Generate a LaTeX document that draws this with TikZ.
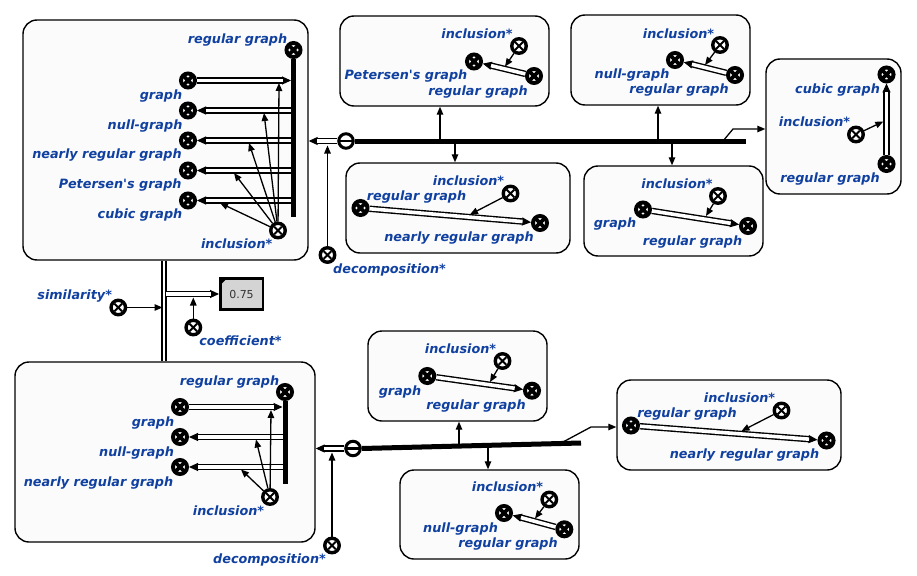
\documentclass[tikz,border=0pt]{standalone}
\usepackage{fontspec}
\setmainfont{DejaVu Sans}
\usetikzlibrary{arrows.meta}
\definecolor{termblue}{RGB}{16,64,160}
\definecolor{framefill}{RGB}{251,251,251}
\definecolor{valuefill}{RGB}{212,212,212}
\definecolor{valuetext}{RGB}{51,51,51}
\tikzset{
  frame/.style={draw=black, line width=1.4pt, fill=framefill, rounded corners=14pt, inner sep=0pt},
  concept/.style={circle, draw=black, fill=white, line width=4pt, minimum size=14pt, inner sep=0pt,
    path picture={\draw[line width=3.8pt, shift={(path picture bounding box.center)}] (-6,-6) -- (6,6) (-6,6) -- (6,-6);}},
  relation/.style={circle, draw=black, fill=white, line width=3.4pt, minimum size=14.5pt, inner sep=0pt,
    path picture={\draw[line width=1.9pt, shift={(path picture bounding box.center)}] (-3.8,-3.8) -- (3.8,3.8) (-3.8,3.8) -- (3.8,-3.8);}},
  hub/.style={circle, draw=black, fill=white, line width=3pt, minimum size=14.5pt, inner sep=0pt,
    path picture={\draw[line width=2.6pt, shift={(path picture bounding box.center)}] (-8,0) -- (8,0);}},
  term/.style={text=termblue, font=\fontsize{12.8}{14}\selectfont\bfseries\itshape, inner sep=0pt,
    text height=9.5pt, text depth=3pt, yshift=-1.8pt},
  arr/.style={draw=black, line width=1.3pt, -{Triangle[length=8pt,width=6.5pt]}},
  hollow/.style={draw=black, double=white, double distance=3.6pt, line width=1.4pt},
  hollowtip/.style={draw=black, line width=1pt, -{Triangle[length=9pt,width=8pt]}},
  thickbar/.style={draw=black, line width=5pt},
}
% white double line ending in a solid tip
\newcommand\hollowarrow[2]{%
  \draw[hollowtip] (#1) -- (#2);
  \draw[hollow, shorten >=8.5pt] (#1) -- (#2);}

\begin{document}
\begin{tikzpicture}[x=1pt,y=-1pt]
\useasboundingbox (0,0) rectangle (917,575);

% frames
\node[frame, minimum width=285pt, minimum height=240pt] (tlbox) at (165.5,140) {};
\node[frame, minimum width=209pt, minimum height=90pt] (petbox) at (444.5,61) {};
\node[frame, minimum width=179pt, minimum height=90pt] (nullbox) at (660.5,60) {};
\node[frame, minimum width=135pt, minimum height=135pt] (cubicbox) at (833.5,126.5) {};
\node[frame, minimum width=224pt, minimum height=90pt] (nearbox) at (458,208) {};
\node[frame, minimum width=179pt, minimum height=90pt] (grbox) at (673.5,211) {};
\node[frame, minimum width=300pt, minimum height=180pt] (blbox) at (165,452) {};
\node[frame, minimum width=179pt, minimum height=90pt] (grboxb) at (457.5,376) {};
\node[frame, minimum width=179pt, minimum height=89pt] (nullboxb) at (489.5,514.5) {};
\node[frame, minimum width=224pt, minimum height=90pt] (nearboxb) at (729,425) {};

% ---- upper left frame ----
\node[concept] (tlreg) at (293.5,50) {};
\node[concept] (tlgraph) at (188,80.5) {};
\node[concept] (tlnull) at (188,110.5) {};
\node[concept] (tlnear) at (188,140.5) {};
\node[concept] (tlpet) at (188,170.5) {};
\node[concept] (tlcubic) at (188,200.5) {};
\node[relation] (tlinc) at (278,230.5) {};
\node[term] (tlregl) at (237.5,38) {regular graph};
\node[term] (tlgraphl) at (161,94) {graph};
\node[term] (tlnulll) at (145,124) {null-graph};
\node[term] (tlnearl) at (107,153.5) {nearly regular graph};
\node[term] (tlpetl) at (120.3,183.5) {Petersen\textquotesingle s graph};
\node[term] (tlcubicl) at (140,213.5) {cubic graph};
\node[term] (tlincl) at (236.7,243.5) {inclusion*};
\coordinate (tlbarend) at (293.5,217);
\coordinate (tlb1) at (291,80.5);
\coordinate (tlb2) at (293.5,110.5);
\coordinate (tlb3) at (293.5,140.5);
\coordinate (tlb4) at (293.5,170.5);
\coordinate (tlb5) at (293.5,200.5);
\hollowarrow{tlgraph}{tlb1}
\hollowarrow{tlb2}{tlnull}
\hollowarrow{tlb3}{tlnear}
\hollowarrow{tlb4}{tlpet}
\hollowarrow{tlb5}{tlcubic}
\draw[thickbar] (tlreg.south) -- (tlbarend);
\coordinate (tlt1) at (279,83);
\coordinate (tlt2) at (264,113);
\coordinate (tlt3) at (249,143);
\coordinate (tlt4) at (234,173);
\coordinate (tlt5) at (220,203);
\foreach \t in {tlt1,tlt2,tlt3,tlt4,tlt5} \draw[arr] (tlinc) -- (\t);

% ---- lower left frame ----
\node[concept] (blreg) at (285,392) {};
\node[concept] (blgraph) at (180,407) {};
\node[concept] (blnull) at (180,437) {};
\node[concept] (blnear) at (180,467) {};
\node[relation] (blinc) at (270,497) {};
\node[term] (blregl) at (229.5,380) {regular graph};
\node[term] (blgraphl) at (153,421) {graph};
\node[term] (blnulll) at (136.5,451) {null-graph};
\node[term] (blnearl) at (98.5,481) {nearly regular graph};
\node[term] (blincl) at (228.5,510) {inclusion*};
\coordinate (blbarend) at (285,484);
\coordinate (blb1) at (282.5,407);
\coordinate (blb2) at (285,437);
\coordinate (blb3) at (285,467);
\hollowarrow{blgraph}{blb1}
\hollowarrow{blb2}{blnull}
\hollowarrow{blb3}{blnear}
\draw[thickbar] (blreg.south) -- (blbarend);
\coordinate (blt1) at (271,410);
\coordinate (blt2) at (256,439.5);
\coordinate (blt3) at (241,469.5);
\foreach \t in {blt1,blt2,blt3} \draw[arr] (blinc) -- (\t);

% ---- similarity link ----
\coordinate (simx) at (164,300);
\draw[hollow, double distance=2.6pt, line width=1.5pt] (tlbox.south -| simx) -- (blbox.north -| simx);
\node[draw=black, line width=2.5pt, fill=valuefill, minimum width=42.5pt, minimum height=31pt, inner sep=0pt,
      text=valuetext, font=\fontsize{11}{13}\selectfont] (val) at (241.5,294) {0.75};
\fill[black] (val.north west) -- ++(9,0) -- ++(-9,9) -- cycle;
\coordinate (simstart) at (166.3,294);
\hollowarrow{simstart}{val}
\node[relation] (sim) at (118.3,307.5) {};
\node[term] (siml) at (74.7,294.3) {similarity*};
\coordinate (simin) at (162.5,307.5);
\draw[arr] (sim) -- (simin);
\node[relation] (coef) at (193.3,327.5) {};
\node[term] (coefl) at (240.5,340) {coefficient*};
\coordinate (coefin) at (193.3,297.5);
\draw[arr] (coef) -- (coefin);

% ---- upper decomposition ----
\node[hub] (hubA) at (346,141) {};
\hollowarrow{hubA}{hubA -| tlbox.east}
\coordinate (barAend) at (746,141);
\draw[thickbar] (hubA.east) -- (barAend);
\node[relation] (decA) at (327.5,255) {};
\node[term] (decAl) at (389.5,268.5) {decomposition*};
\coordinate (decAin) at (327.5,145.5);
\draw[arr] (decA) -- (decAin);
\coordinate (ba1) at (440,141);
\coordinate (ba2) at (455,141);
\coordinate (ba3) at (658,141);
\coordinate (ba4) at (672,141);
\coordinate (ba5) at (723,141);
\coordinate (ka) at (733,129);
\draw[arr] (ba1) -- (ba1 |- petbox.south);
\draw[arr] (ba2) -- (ba2 |- nearbox.north);
\draw[arr] (ba3) -- (ba3 |- nullbox.south);
\draw[arr] (ba4) -- (ba4 |- grbox.north);
\draw[arr] (ba5) -- (ka) -- (ka -| cubicbox.west);

% ---- lower decomposition ----
\node[hub] (hubB) at (353,448.5) {};
\hollowarrow{hubB}{hubB -| blbox.east}
\coordinate (barBend) at (581,443);
\draw[thickbar] (hubB.east) -- (barBend);
\node[relation] (decB) at (332,545.5) {};
\node[term] (decBl) at (269.5,558) {decomposition*};
\coordinate (decBin) at (332,452.5);
\draw[arr] (decB) -- (decBin);
\coordinate (bb1) at (459,446);
\coordinate (bb2) at (488,445.3);
\coordinate (bb3) at (560,443.6);
\coordinate (kb) at (591,427);
\draw[arr] (bb1) -- (bb1 |- grboxb.south);
\draw[arr] (bb2) -- (bb2 |- nullboxb.north);
\draw[arr] (bb3) -- (kb) -- (kb -| nearboxb.west);

% ---- Petersen's graph frame ----
\node[relation] (pinc) at (519,46) {};
\node[concept] (ppet) at (474,61.5) {};
\node[concept] (preg) at (534,76) {};
\node[term] (pincl) at (477,33) {inclusion*};
\node[term] (ppetl) at (406,74) {Petersen\textquotesingle s graph};
\node[term] (pregl) at (478,90) {regular graph};
\hollowarrow{preg}{ppet}
\coordinate (pt) at (505,66.5);
\draw[arr] (pinc) -- (pt);

% ---- null-graph frame ----
\node[relation] (ninc) at (720,45) {};
\node[concept] (nnull) at (675,60) {};
\node[concept] (nreg) at (735,75) {};
\node[term] (nincl) at (678.5,33) {inclusion*};
\node[term] (nnulll) at (632,73) {null-graph};
\node[term] (nregl) at (679,88.5) {regular graph};
\hollowarrow{nreg}{nnull}
\coordinate (nt) at (705,65);
\draw[arr] (ninc) -- (nt);

% ---- cubic graph frame ----
\node[relation] (cinc) at (856,134.5) {};
\node[concept] (ccub) at (886.5,74.5) {};
\node[concept] (creg) at (886.5,164) {};
\node[term] (cincl) at (814.5,121.5) {inclusion*};
\node[term] (ccubl) at (837.5,88) {cubic graph};
\node[term] (cregl) at (830,177.5) {regular graph};
\hollowarrow{creg}{ccub}
\coordinate (ct) at (883.3,121.5);
\draw[arr] (cinc) -- (ct);

% ---- nearly regular graph frame (upper) ----
\node[relation] (rinc) at (510.5,193.5) {};
\node[concept] (rreg) at (360.5,208) {};
\node[concept] (rnear) at (540,223) {};
\node[term] (rincl) at (468.5,180) {inclusion*};
\node[term] (rregl) at (416.5,195.5) {regular graph};
\node[term] (rnearl) at (459,236.5) {nearly regular graph};
\hollowarrow{rreg}{rnear}
\coordinate (rt) at (470,214.5);
\draw[arr] (rinc) -- (rt);

% ---- graph frame (upper) ----
\node[relation] (ginc) at (718,196) {};
\node[concept] (ggraph) at (643,209.5) {};
\node[concept] (greg) at (748,226) {};
\node[term] (gincl) at (677,183) {inclusion*};
\node[term] (ggraphl) at (615,222.5) {graph};
\node[term] (gregl) at (692.5,240) {regular graph};
\hollowarrow{ggraph}{greg}
\coordinate (gt) at (706,216);
\draw[arr] (ginc) -- (gt);

% ---- graph frame (lower) ----
\node[relation] (hinc) at (502.5,361) {};
\node[concept] (hgraph) at (427.3,376) {};
\node[concept] (hreg) at (532,390.7) {};
\node[term] (hincl) at (460.5,348.3) {inclusion*};
\node[term] (hgraphl) at (400,390) {graph};
\node[term] (hregl) at (476,404.3) {regular graph};
\hollowarrow{hgraph}{hreg}
\coordinate (ht) at (490,382);
\draw[arr] (hinc) -- (ht);

% ---- null-graph frame (lower) ----
\node[relation] (minc) at (549.3,499.5) {};
\node[concept] (mnull) at (504,513) {};
\node[concept] (mreg) at (564.3,529.3) {};
\node[term] (mincl) at (507.5,486.7) {inclusion*};
\node[term] (mnulll) at (460.5,527.3) {null-graph};
\node[term] (mregl) at (508,542.5) {regular graph};
\hollowarrow{mreg}{mnull}
\coordinate (mt) at (535,518.5);
\draw[arr] (minc) -- (mt);

% ---- nearly regular graph frame (lower) ----
\node[relation] (qinc) at (781.5,410.5) {};
\node[concept] (qreg) at (631,425.5) {};
\node[concept] (qnear) at (826.5,440.5) {};
\node[term] (qincl) at (739.5,397.3) {inclusion*};
\node[term] (qregl) at (687,412.7) {regular graph};
\node[term] (qnearl) at (744.5,453.3) {nearly regular graph};
\hollowarrow{qreg}{qnear}
\coordinate (qt) at (741.5,431);
\draw[arr] (qinc) -- (qt);
\end{tikzpicture}
\end{document}
